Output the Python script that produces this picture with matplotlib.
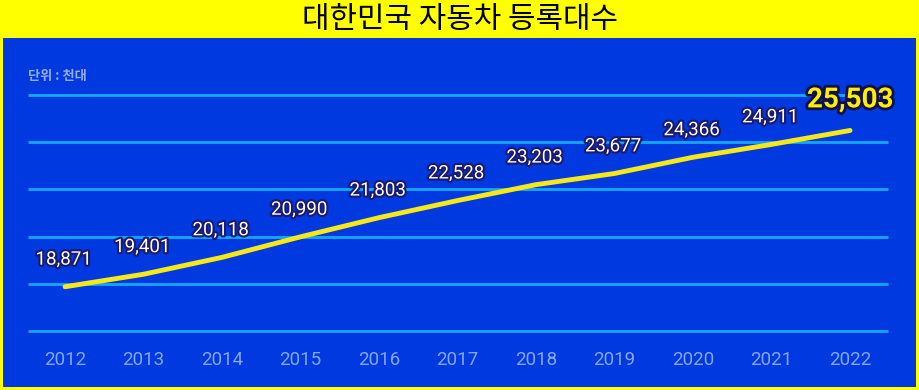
import matplotlib.pyplot as plt
import matplotlib.patheffects as pe

plt.rcParams['font.family'] = ['Noto Sans CJK KR', 'DejaVu Sans']

years = [2012, 2013, 2014, 2015, 2016, 2017, 2018, 2019, 2020, 2021, 2022]
cars = [18871, 19401, 20118, 20990, 21803, 22528, 23203, 23677, 24366, 24911, 25503]
grid_vals = [17000, 19000, 21000, 23000, 25000, 27000]
title = '대한민국 자동차 등록대수'
unit = '단위 : 천대'

W, H = 919, 390
fig = plt.figure(figsize=(W / 100, H / 100), dpi=100)
fig.patch.set_facecolor('#ffff00')
ax = fig.add_axes([3 / W, 3 / H, 913 / W, 349 / H])
ax.set_facecolor('#0039e0')
ax.set_xlim(2011.21, 2022.84)
ax.set_ylim(14617, 29426)
for s in ax.spines.values():
    s.set_visible(False)
ax.set_xticks([])
ax.set_yticks([])

ax.hlines(grid_vals, 2011.53, 2022.48, color='#14a9f7', lw=2, zorder=1)
ax.plot(years, cars, color='#f7e81a', lw=3.5, solid_capstyle='round', zorder=3)

outline = [pe.withStroke(linewidth=3, foreground='#1a1a6e')]
for x, v in zip(years[:-1], cars[:-1]):
    ax.annotate(f'{v:,}', (x, v), xytext=(-1, 19.5), textcoords='offset points',
                ha='center', va='center', fontsize=13.5, color='white',
                family=['Roboto', 'DejaVu Sans'], path_effects=outline, zorder=4)
ax.annotate(f'{cars[-1]:,}', (years[-1], cars[-1]), xytext=(0, 22), textcoords='offset points',
            ha='center', va='center', fontsize=20, color='#ffee00', fontweight='bold',
            family=['Roboto', 'DejaVu Sans'],
            path_effects=[pe.withStroke(linewidth=4, foreground='#10104a')], zorder=4)

for x in years:
    ax.text(x, 15750, str(x), ha='center', va='center', fontsize=13.5,
            color='#86a6ee', family=['Roboto', 'DejaVu Sans'])

ax.text(2011.53, 27800, unit, ha='left', va='center', fontsize=9.5,
        color='#97ace6', fontweight='bold')

fig.text(0.5, 1 - 19 / H, title, ha='center', va='center', fontsize=21.5, color='black')

fig.savefig('out.png', dpi=100, facecolor=fig.get_facecolor())
